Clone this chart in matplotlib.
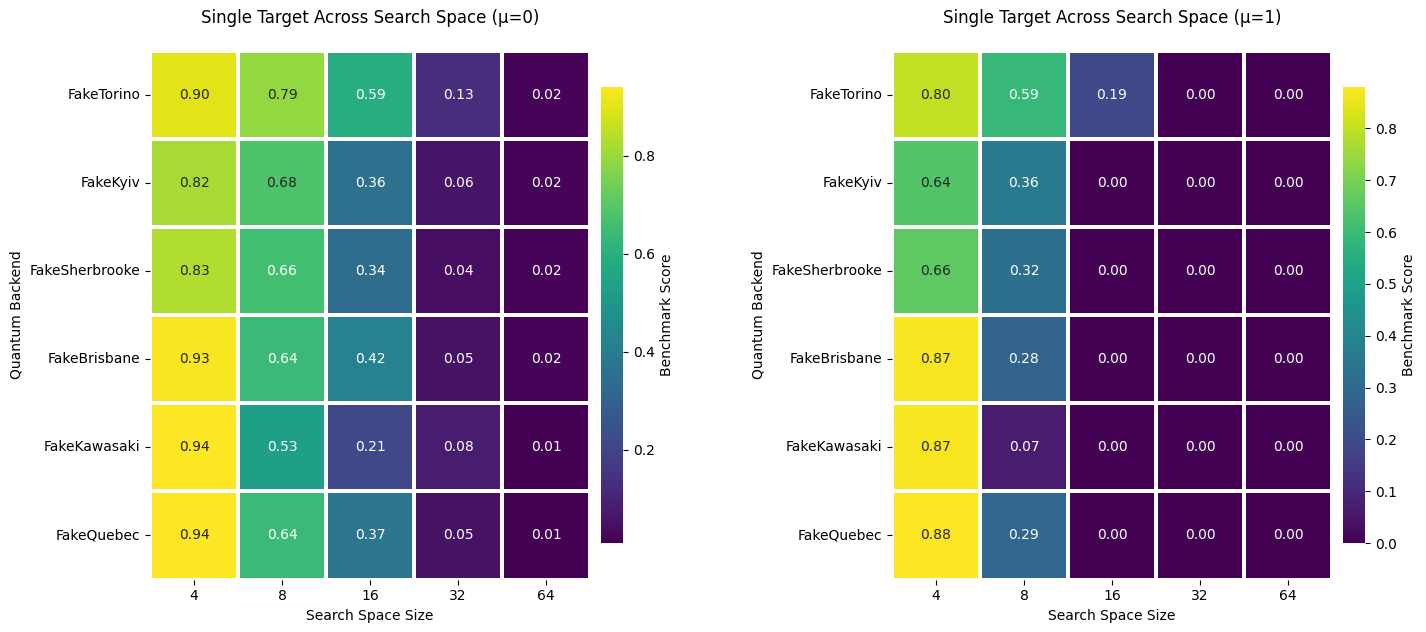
import matplotlib
matplotlib.use("Agg")
import matplotlib.pyplot as plt
import numpy as np
import pandas as pd
import seaborn as sns

backends = ["FakeTorino", "FakeKyiv", "FakeSherbrooke", "FakeBrisbane", "FakeKawasaki", "FakeQuebec"]
space_sizes = [4, 8, 16, 32, 64]

scores_mu0 = [
    [0.90, 0.79, 0.59, 0.13, 0.02],
    [0.82, 0.68, 0.36, 0.06, 0.02],
    [0.83, 0.66, 0.34, 0.04, 0.02],
    [0.93, 0.64, 0.42, 0.05, 0.02],
    [0.94, 0.53, 0.21, 0.08, 0.01],
    [0.94, 0.64, 0.37, 0.05, 0.01],
]
scores_mu1 = [
    [0.80, 0.59, 0.19, 0.00, 0.00],
    [0.64, 0.36, 0.00, 0.00, 0.00],
    [0.66, 0.32, 0.00, 0.00, 0.00],
    [0.87, 0.28, 0.00, 0.00, 0.00],
    [0.87, 0.07, 0.00, 0.00, 0.00],
    [0.88, 0.29, 0.00, 0.00, 0.00],
]

fig = plt.figure(figsize=(14.26, 6.32), dpi=100)

# heatmap axes + colorbar axes placed by hand
panels = [
    (scores_mu0, "Single Target Across Search Space (μ=0)", 0.1052, 0.4215),
    (scores_mu1, "Single Target Across Search Space (μ=1)", 0.6255, 0.9418),
]

for scores, title, x_hm, x_cb in panels:
    ax = fig.add_axes([x_hm, 0.0830, 0.3086, 0.8370])
    cax = fig.add_axes([x_cb, 0.1408, 0.0154, 0.7215])
    df = pd.DataFrame(scores, index=backends, columns=space_sizes)
    sns.heatmap(df, ax=ax, cbar_ax=cax, cmap="viridis", annot=True, fmt=".2f",
                linewidths=2.8, linecolor="white",
                annot_kws={"fontsize": 10},
                cbar_kws={"label": "Benchmark Score"})
    ax.set_title(title, fontsize=12, pad=20)
    ax.set_xlabel("Search Space Size")
    ax.set_ylabel("Quantum Backend")
    ax.tick_params(axis="y", rotation=0)
    ax.tick_params(axis="x", rotation=0)
    cax.tick_params(labelsize=10)

fig.savefig("out.png", dpi=100)
